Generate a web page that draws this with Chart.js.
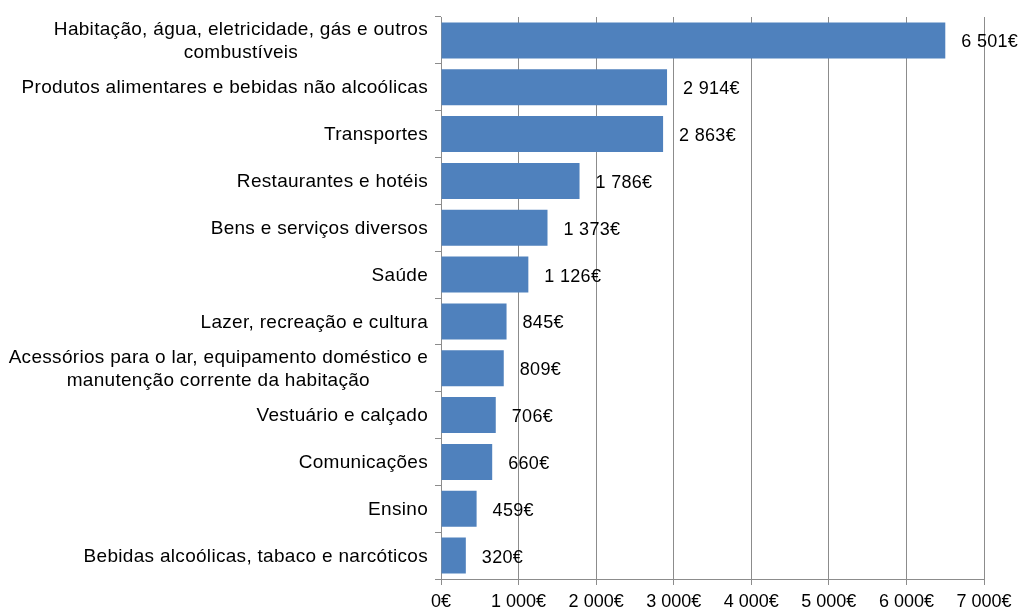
<!DOCTYPE html>
<html>
<head>
<meta charset="utf-8">
<script src="https://cdn.jsdelivr.net/npm/chart.js@4/dist/chart.umd.min.js"></script>
<style>
  html, body { margin: 0; padding: 0; background: #fff; }
  #wrap { width: 1021px; height: 610px; }
</style>
</head>
<body>
<div id="wrap"><canvas id="despesas" width="1021" height="610"></canvas></div>
<script>
let categories = [
  ["Habitação, água, eletricidade, gás e outros", "combustíveis"],
  "Produtos alimentares e bebidas não alcoólicas",
  "Transportes",
  "Restaurantes e hotéis",
  "Bens e serviços diversos",
  "Saúde",
  "Lazer, recreação e cultura",
  ["Acessórios para o lar, equipamento doméstico e", "manutenção corrente da habitação"],
  "Vestuário e calçado",
  "Comunicações",
  "Ensino",
  "Bebidas alcoólicas, tabaco e narcóticos",
];
let despesa = [6501, 2914, 2863, 1786, 1373, 1126, 845, 809, 706, 660, 459, 320];
let xTicks = [0, 1000, 2000, 3000, 4000, 5000, 6000, 7000];

const fontFamily = "'Liberation Sans', Arial, sans-serif";
const gridColor = "#8c8c8c";

const euro = (v) => {
  let s = String(v).replace(/\B(?=(\d{3})+(?!\d))/g, " ");
  return s + "€";
};

// y labels drawn by hand: right aligned block, lines centred inside it
const yLabelsPlugin = {
  id: "yLabels",
  afterDraw(chart) {
    let ctx = chart.ctx;
    let yScale = chart.scales.y;
    ctx.save();
    ctx.font = "19px " + fontFamily;
    ctx.letterSpacing = "0.3px";
    ctx.fillStyle = "#000";
    ctx.textBaseline = "middle";
    ctx.textAlign = "center";
    let right = yScale.right - 13;
    let lineH = 22.5;
    categories.forEach((lab, i) => {
      let lines = Array.isArray(lab) ? lab : [lab];
      let w = Math.max(...lines.map((l) => ctx.measureText(l).width));
      let cx = right - w / 2;
      let y = yScale.getPixelForValue(i) + 1;
      let y0 = y - ((lines.length - 1) * lineH) / 2;
      lines.forEach((l, k) => ctx.fillText(l, cx, y0 + k * lineH));
    });
    ctx.restore();
  },
};

const valueLabelsPlugin = {
  id: "valueLabels",
  afterDatasetsDraw(chart) {
    let ctx = chart.ctx;
    let meta = chart.getDatasetMeta(0);
    ctx.save();
    ctx.font = "18px " + fontFamily;
    ctx.letterSpacing = "0.3px";
    ctx.fillStyle = "#000";
    ctx.textBaseline = "middle";
    ctx.textAlign = "left";
    meta.data.forEach((bar, i) => {
      ctx.fillText(euro(despesa[i]), bar.x + 16, bar.y + 2);
    });
    ctx.restore();
  },
};

let chart = new Chart(document.getElementById("despesas"), {
  type: "bar",
  data: {
    labels: categories,
    datasets: [
      {
        data: despesa,
        backgroundColor: "#4f81bd",
        borderWidth: 0,
        barPercentage: 0.77,
        categoryPercentage: 1,
      },
    ],
  },
  options: {
    indexAxis: "y",
    responsive: false,
    animation: false,
    layout: { padding: { top: 17, right: 37, left: 0, bottom: 0 } },
    plugins: {
      legend: { display: false },
      tooltip: { enabled: false },
    },
    scales: {
      x: {
        min: xTicks[0],
        max: xTicks[xTicks.length - 1],
        afterBuildTicks: (scale) => {
          scale.ticks = xTicks.map((v) => ({ value: v }));
        },
        grid: { color: gridColor, tickLength: 6, lineWidth: 1 },
        border: { color: gridColor },
        ticks: {
          color: "#000",
          font: { family: fontFamily, size: 18 },
          padding: 6,
          maxRotation: 0,
          callback: (v) => euro(v),
        },
        afterFit: (scale) => {
          scale.height = 31;
        },
      },
      y: {
        grid: { drawOnChartArea: false, color: gridColor, tickLength: 6, offset: true },
        border: { color: gridColor },
        ticks: { display: false },
        afterFit: (scale) => {
          scale.width = 441;
        },
      },
    },
  },
  plugins: [yLabelsPlugin, valueLabelsPlugin],
});
</script>
</body>
</html>
